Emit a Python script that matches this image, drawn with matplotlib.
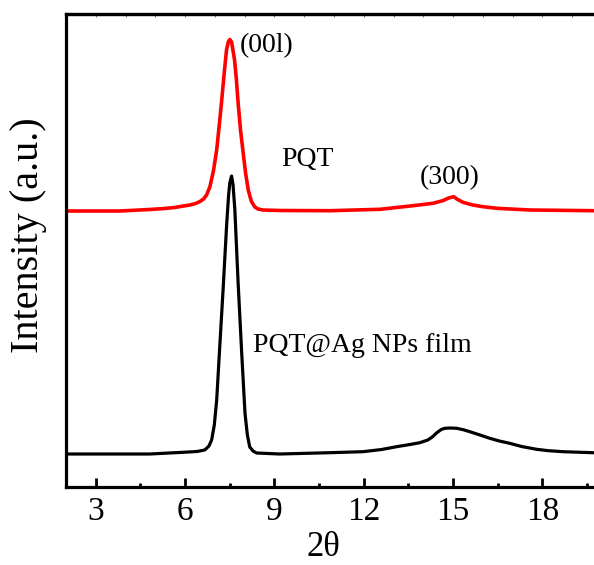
import matplotlib
matplotlib.use("Agg")
import matplotlib.pyplot as plt
from matplotlib.ticker import MultipleLocator, FixedLocator

plt.rcParams['font.family'] = ['Liberation Serif', 'DejaVu Serif']

# XRD patterns (2θ in degrees, intensity in arbitrary units)
pqt_2theta = [2.0, 3.81, 4.81, 5.30, 5.65, 5.95, 6.16, 6.35, 6.50, 6.62, 6.72, 6.83,
              6.95, 7.06, 7.14, 7.22, 7.31, 7.39, 7.45, 7.50, 7.56, 7.66, 7.72, 7.78,
              7.86, 7.95, 8.03, 8.12, 8.22, 8.34, 8.45, 8.61, 9.2, 10.86, 12.54,
              13.65, 14.32, 14.65, 14.85, 15.02, 15.15, 15.33, 15.66, 16.0, 16.47,
              17.58, 19.69]
pqt_int = [276, 276, 277.5, 278.5, 279.5, 281, 282, 283.5, 285.5, 288, 292, 300,
           316, 337, 360, 384, 413, 437, 445, 447.5, 445, 427, 408, 384,
           357, 334, 314, 297, 286, 280, 278, 277, 276.5, 276.3, 277.7,
           281.3, 283.7, 286.3, 289, 290.3, 287.5, 284.7, 282, 280.3, 278.7,
           277, 276.3]

ag_2theta = [2.0, 4.81, 5.93, 6.40, 6.66, 6.80, 6.89, 6.98, 7.06, 7.17, 7.28, 7.39,
             7.46, 7.50, 7.56, 7.61, 7.67, 7.78, 7.90, 8.01, 8.09, 8.17, 8.28, 8.40,
             9.18, 10.86, 11.97, 12.60, 13.10, 13.55, 13.88, 14.15, 14.30, 14.44,
             14.60, 14.72, 14.90, 15.12, 15.35, 15.56, 15.90, 16.23, 16.55, 16.90,
             17.30, 17.80, 18.20, 18.70, 19.69]
ag_int = [33, 33, 34.7, 35.5, 37, 41, 47, 62, 87, 144, 200, 260,
          292, 304, 311, 302, 277, 204, 134, 74, 52, 40, 36, 34,
          33, 34.3, 35.3, 37.5, 40.3, 42.5, 44.3, 47, 50, 54,
          57.5, 58.7, 59, 58.7, 57.2, 55.3, 52, 48.7, 46, 43.7,
          40.5, 37.7, 36.3, 35.3, 34.3]

x_major = [3, 6, 9, 12, 15, 18]

fig = plt.figure(figsize=(5.94, 5.65), dpi=100)
ax = fig.add_axes([66 / 594, 1 - 487 / 565, 1 - 66 / 594, (487 - 14) / 565])

ax.plot(pqt_2theta, pqt_int, color='#ff0000', lw=2.6, solid_joinstyle='round')
ax.plot(ag_2theta, ag_int, color='black', lw=2.3, solid_joinstyle='round')

ax.set_xlim(2, 19.73)
ax.set_ylim(0, 473)

ax.spines['right'].set_visible(False)
for s in ('left', 'bottom', 'top'):
    ax.spines[s].set_linewidth(2.3)

ax.xaxis.set_major_locator(FixedLocator(x_major))
ax.xaxis.set_minor_locator(MultipleLocator(1.5))
ax.tick_params(axis='x', which='major', direction='in', length=6.5, width=2.0,
               labelsize=24, pad=7, top=False)
ax.tick_params(axis='x', which='minor', direction='in', length=3, width=2.0, top=False)
ax.set_yticks([])

# fine ticks along the top frame
top = ax.secondary_xaxis('top')
top.xaxis.set_major_locator(MultipleLocator(1))
top.tick_params(axis='x', which='major', direction='in', length=2.5, width=0.8,
                color='#777777', labeltop=False)
top.spines['top'].set_linewidth(2.3)

ax.set_xlabel('2θ', fontsize=25)
ax.xaxis.set_label_coords(0.487, -0.162)
ax.xaxis.label.set_va('bottom')
ax.set_ylabel('Intensity (a.u.)', fontsize=29)
ax.yaxis.set_label_coords(-0.036, 0.532)

ax.text(7.84, 441, '(00l)', fontsize=20, ha='left', va='center')
ax.text(9.21, 327, 'PQT', fontsize=20, ha='left', va='center')
ax.text(14.9, 309, '(300)', fontsize=20, ha='center', va='center')
ax.text(8.27, 142, 'PQT@Ag NPs film', fontsize=20, ha='left', va='center')

fig.savefig('out.png', dpi=100)
